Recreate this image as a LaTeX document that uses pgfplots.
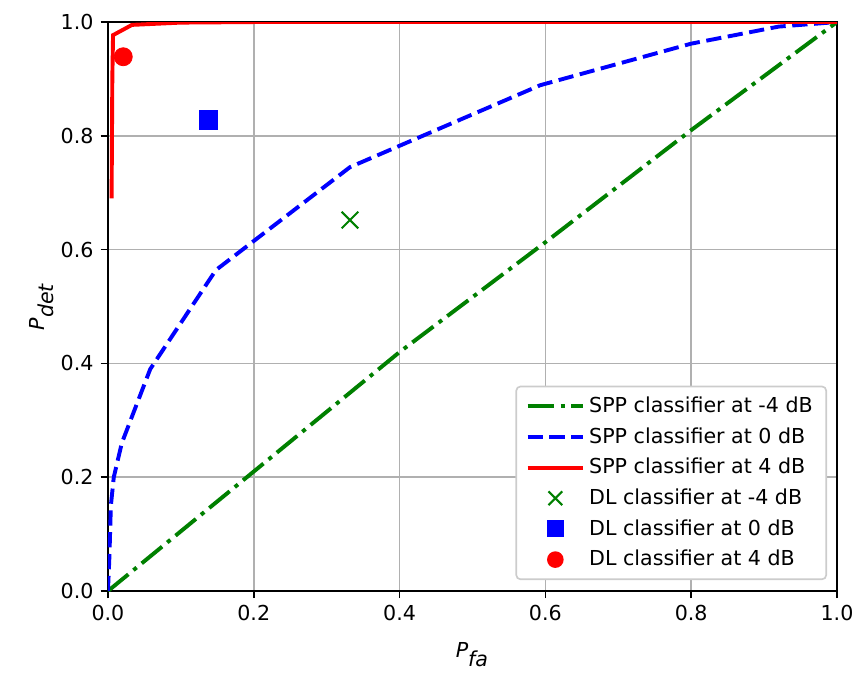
\documentclass[border=0pt]{standalone}
\usepackage{pgfplots}
\pgfplotsset{compat=1.18}
\usepackage{fontspec}
\setmainfont{DejaVu Sans}
\definecolor{mplgreen}{rgb}{0,0.5,0}
\definecolor{gridgray}{HTML}{B0B0B0}
\begin{document}
\begin{tikzpicture}
\begin{axis}[
  scale only axis,
  width=353.9pt, height=276.2pt,
  xmin=0, xmax=1, ymin=0, ymax=1,
  xtick={0,0.2,0.4,0.6,0.8,1.0},
  ytick={0,0.2,0.4,0.6,0.8,1.0},
  /pgf/number format/assume math mode=true,
  xticklabel style={/pgf/number format/fixed,/pgf/number format/fixed zerofill,/pgf/number format/precision=1},
  yticklabel style={/pgf/number format/fixed,/pgf/number format/fixed zerofill,/pgf/number format/precision=1},
  ticklabel style={font=\fontsize{10}{12}\selectfont},
  tick align=outside, tick pos=left,
  major tick length=3.5pt,
  every tick/.style={black, line width=0.8pt},
  axis line style={line width=0.8pt},
  grid=major,
  grid style={gridgray, line width=0.8pt},
  xlabel={$\textit{P}_{\textit{fa}}$},
  ylabel={$\textit{P}_{\textit{det}}$},
  xlabel style={yshift=-3.5pt},
  ylabel style={yshift=-3.5pt},
  label style={font=\fontsize{10}{12}\selectfont},
  legend cell align=left,
  legend style={
    at={(axis description cs:1,0)}, anchor=south east,
    xshift=-4.85pt, yshift=5.3pt,
    draw=black!20, line width=0.8pt, rounded corners=2pt,
    fill=white,
    font=\fontsize{10}{12}\selectfont,
    inner xsep=4.5pt, inner ysep=3pt,
    row sep=1.8pt,
  },
  legend image code/.code={\draw[mark repeat=2,mark phase=2,#1,/tikz/every mark/.append style={scale=0.83}] plot coordinates {(0pt,0pt) (13.5pt,0pt) (27pt,0pt)};},
]
\addplot[mplgreen, line width=1.9pt, dash pattern=on 12.8pt off 3.2pt on 2pt off 3.2pt] coordinates {
 (0,0) (0.2,0.21) (0.4,0.42) (0.6,0.613) (0.8,0.81) (1,1)};
\addlegendentry{SPP classifier at -4 dB}
\addplot[blue, line width=1.9pt, dash pattern=on 7.4pt off 3.2pt] coordinates {
 (0,0) (0.002,0.06) (0.004,0.15) (0.008,0.2) (0.019,0.26) (0.058,0.39) (0.148,0.564) (0.332,0.745) (0.593,0.889) (0.8,0.962) (0.92,0.992) (1,1)};
\addlegendentry{SPP classifier at 0 dB}
\addplot[red, line width=1.9pt] coordinates {
 (0.005,0.69) (0.006,0.9) (0.007,0.977) (0.033,0.995) (0.1,0.999) (0.2,1.0) (1,1)};
\addlegendentry{SPP classifier at 4 dB}
\addplot[mplgreen, only marks, mark=x, mark size=5.7pt, line width=1pt] coordinates {(0.332,0.652)};
\addlegendentry{DL classifier at -4 dB}
\addplot[blue, only marks, mark=square*, mark size=4.5pt, mark options={draw=none}] coordinates {(0.138,0.828)};
\addlegendentry{DL classifier at 0 dB}
\addplot[red, only marks, mark=*, mark size=4.37pt, mark options={draw=none}] coordinates {(0.021,0.939)};
\addlegendentry{DL classifier at 4 dB}
\end{axis}
\path ([shift={(-52.4pt,-39.3pt)}]current axis.south west) rectangle ([shift={(11.65pt,10.7pt)}]current axis.north east);
\end{tikzpicture}
\end{document}
